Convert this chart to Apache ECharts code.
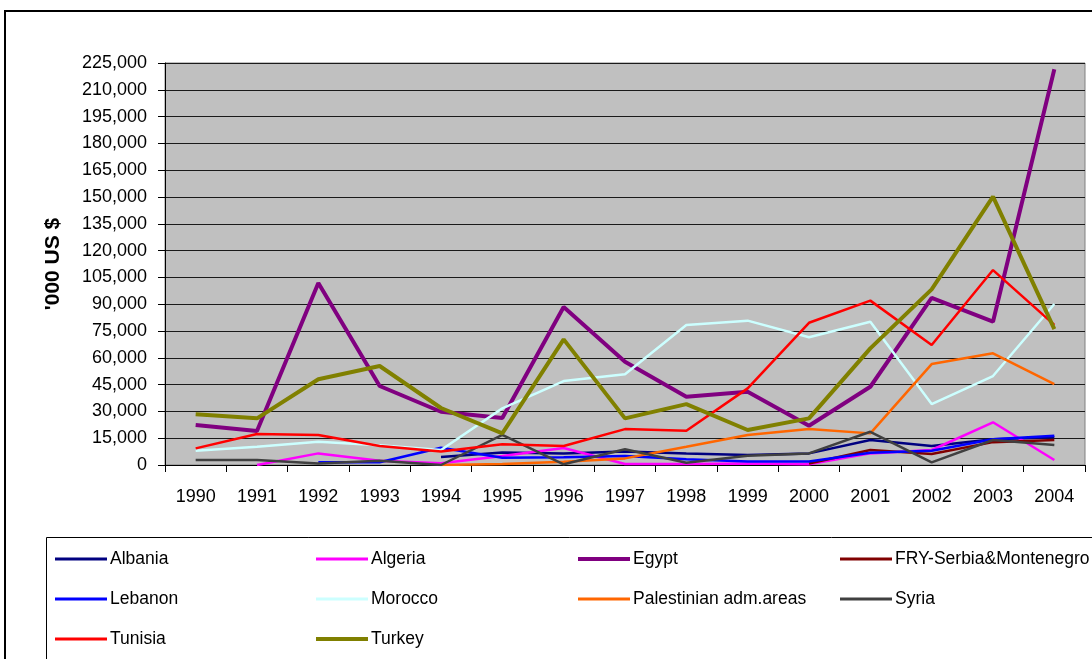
<!DOCTYPE html>
<html>
<head>
<meta charset="UTF-8">
<title>chart</title>
<script src="https://cdn.jsdelivr.net/npm/echarts@6/dist/echarts.min.js"></script>
<style>
  html, body { margin: 0; padding: 0; background: #fff; }
  #main { width: 1092px; height: 659px; }
</style>
</head>
<body>
<div id="main"></div>
<script type="text/javascript">
    var years = ['1990','1991','1992','1993','1994','1995','1996','1997','1998','1999','2000','2001','2002','2003','2004'];

    var albania   = [null, null, null, null, 4500, 7000, 6500, 7500, 6500, 5600, 6500, 14000, 10600, 14400, 15500];
    var algeria   = [null, 0, 6500, 2400, 1000, 5000, 9500, 600, 500, 900, 400, 6500, 8400, 23900, 2800];
    var egypt     = [22400, 19000, 101900, 44200, 29800, 26300, 88400, 57800, 38200, 41000, 22000, 43800, 93600, 80200, 221500];
    var fry       = [null, null, null, null, null, null, null, null, null, null, 800, 8400, 6200, 12800, 14000];
    var lebanon   = [null, null, 1500, 1500, 9700, 4000, 4400, 5000, 3200, 1900, 1900, 6900, 8000, 14400, 16400];
    var morocco   = [8000, 10200, 13000, 11000, 8400, 31700, 47000, 50800, 78400, 80800, 71500, 80200, 34100, 49800, 90100];
    var palestine = [null, null, null, null, 0, 500, 1800, 3700, 10200, 16800, 20100, 17700, 56500, 62500, 45300];
    var syria     = [2800, 2800, 900, 2400, 0, 16800, 400, 8800, 1300, 5200, 6500, 18600, 1500, 14000, 11200];
    var tunisia   = [9300, 17400, 16800, 10600, 7500, 11600, 10600, 20100, 19200, 42900, 79600, 92000, 67200, 109100, 78400];
    var turkey    = [28400, 26100, 48000, 55400, 31900, 17700, 70300, 26100, 34100, 19600, 26100, 65300, 98300, 150200, 76100];

    var names  = ['Albania','Algeria','Egypt','FRY-Serbia&Montenegro','Lebanon','Morocco','Palestinian adm.areas','Syria','Tunisia','Turkey'];
    var values = [albania, algeria, egypt, fry, lebanon, morocco, palestine, syria, tunisia, turkey];
    var colors = ['#000080','#ff00ff','#800080','#800000','#0000ff','#ccffff','#ff6600','#404040','#ff0000','#808000'];
    var widths = [2.5, 2.5, 4, 2.5, 2.5, 2.5, 2.5, 2.5, 2.5, 4];

    var myChart = echarts.init(document.getElementById('main'));

    var series = [];
    var legends = [];
    var legendLeft = [55, 316, 578, 840];
    var legendTop = [550, 590, 630];
    for (var i = 0; i < names.length; i++) {
        series.push({
            name: names[i],
            type: 'line',
            data: values[i],
            symbol: 'none',
            connectNulls: false,
            lineStyle: { color: colors[i], width: widths[i] },
            itemStyle: { color: colors[i] },
            z: 2 + i
        });
        legends.push({
            data: [names[i]],
            left: legendLeft[i % 4],
            top: legendTop[Math.floor(i / 4)],
            icon: 'rect',
            itemWidth: 52,
            itemHeight: widths[i] > 3 ? 4 : 3,
            itemGap: 3,
            padding: 0,
            textStyle: { fontFamily: 'Liberation Sans, Arial', fontSize: 17.5, color: '#000', padding: [0, 0, 0, -2] }
        });
    }

    var option = {
        animation: false,
        backgroundColor: '#fff',
        textStyle: { fontFamily: 'Liberation Sans, Arial' },
        grid: {
            left: 165, right: 7, top: 63, bottom: 194,
            show: true,
            backgroundColor: '#c0c0c0',
            borderColor: '#808080',
            borderWidth: 1
        },
        legend: legends,
        xAxis: {
            type: 'category',
            data: years,
            boundaryGap: true,
            axisLine: { lineStyle: { color: '#000', width: 1 } },
            axisTick: { show: true, inside: false, length: 7, lineStyle: { color: '#000' } },
            axisLabel: { color: '#000', fontSize: 18, margin: 23 },
            splitLine: { show: false }
        },
        yAxis: {
            type: 'value',
            min: 0,
            max: 225000,
            interval: 15000,
            name: "'000 US $",
            nameLocation: 'middle',
            nameRotate: 90,
            nameGap: 101,
            nameTextStyle: { color: '#000', fontSize: 21, fontWeight: 'bold' },
            axisLine: { show: true, lineStyle: { color: '#000', width: 1 } },
            axisTick: { show: true, inside: false, length: 7, lineStyle: { color: '#000' } },
            axisLabel: {
                color: '#000', fontSize: 18, margin: 18,
                formatter: function (v) { return v.toString().replace(/\B(?=(\d{3})+(?!\d))/g, ','); }
            },
            splitLine: { show: true, lineStyle: { color: '#1a1a1a', width: 1 } }
        },
        graphic: [
            {
                type: 'rect',
                shape: { x: 5, y: 11, width: 1200, height: 800 },
                style: { fill: 'none', stroke: '#000', lineWidth: 2 },
                silent: true, z: -10
            },
            {
                type: 'rect',
                shape: { x: 46.5, y: 537.5, width: 1200, height: 300 },
                style: { fill: 'none', stroke: '#000', lineWidth: 1 },
                silent: true, z: -10
            }
        ],
        series: series
    };
    myChart.setOption(option);
</script>
</body>
</html>
